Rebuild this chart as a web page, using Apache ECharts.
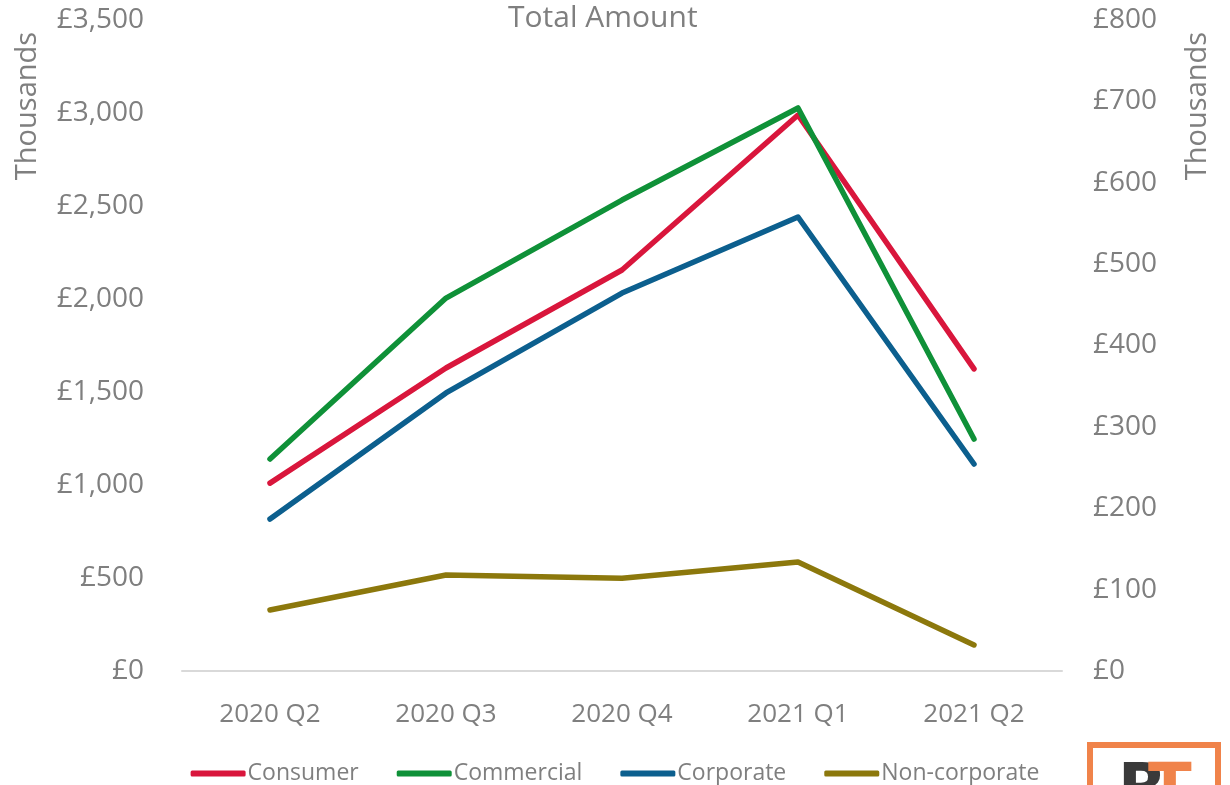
<!DOCTYPE html>
<html>
<head>
<meta charset="utf-8">
<title>Total Amount</title>
<script src="https://cdn.jsdelivr.net/npm/echarts@6/dist/echarts.min.js"></script>
<style>
    html, body { margin: 0; padding: 0; background: #fff; }
    #chart { width: 1230px; height: 785px; }
</style>
</head>
<body>
<div id="chart"></div>
<script>
// Data (thousands of pounds)
const quarters = ['2020 Q2', '2020 Q3', '2020 Q4', '2021 Q1', '2021 Q2'];
const consumer = [1010, 1629, 2156, 2989, 1624];
const commercial = [1140, 2005, 2532, 3027, 1247];
const corporate = [817, 1495, 2032, 2441, 1113];
// Non-corporate is plotted against the right-hand axis
const nonCorporate = [75, 118, 114, 134, 32];

const GREY = '#7f7f7f';
const FONT = '"Open Sans", "Noto Sans", sans-serif';

// Utility: £ formatting with thousands separator
function pounds(v) {
    return '£' + v.toLocaleString('en-GB');
}

function lineSeries(name, data, color, axisIndex) {
    return {
        name: name,
        type: 'line',
        data: data,
        yAxisIndex: axisIndex,
        showSymbol: false,
        symbol: 'none',
        color: color,
        lineStyle: { width: 5.5, color: color, cap: 'round', join: 'round' }
    };
}

const chart = echarts.init(document.getElementById('chart'));

chart.setOption({
    animation: false,
    textStyle: { fontFamily: FONT },
    title: {
        text: 'Total Amount',
        left: 508,
        top: 3,
        padding: 0,
        textStyle: { color: GREY, fontSize: 30, fontWeight: 'normal', fontFamily: FONT }
    },
    grid: { left: 182, right: 168, top: 20, bottom: 114 },
    legend: {
        left: 'center',
        top: 757,
        itemWidth: 55,
        itemHeight: 6,
        itemGap: 38,
        icon: 'roundRect',
        textStyle: { color: GREY, fontSize: 23, fontFamily: FONT, padding: [0, 0, 0, -3] },
        data: ['Consumer', 'Commercial', 'Corporate', 'Non-corporate']
    },
    xAxis: {
        type: 'category',
        data: quarters,
        axisLine: { lineStyle: { color: '#d9d9d9', width: 2 } },
        axisTick: { show: false },
        axisLabel: { color: GREY, fontSize: 26, margin: 31, fontFamily: FONT }
    },
    yAxis: [
        {
            type: 'value',
            min: 0,
            max: 3500,
            interval: 500,
            splitLine: { show: false },
            axisLine: { show: false },
            axisTick: { show: false },
            axisLabel: { color: GREY, fontSize: 28, margin: 38, fontFamily: FONT, formatter: pounds }
        },
        {
            type: 'value',
            min: 0,
            max: 800,
            interval: 100,
            position: 'right',
            splitLine: { show: false },
            axisLine: { show: false },
            axisTick: { show: false },
            axisLabel: { color: GREY, fontSize: 28, margin: 31, fontFamily: FONT, formatter: pounds }
        }
    ],
    graphic: [
        // axis unit captions
        {
            type: 'text', x: 28, y: 106, rotation: Math.PI / 2,
            style: { text: 'Thousands', fill: GREY, font: '29px ' + FONT, align: 'center', verticalAlign: 'middle' }
        },
        {
            type: 'text', x: 1198, y: 106, rotation: Math.PI / 2,
            style: { text: 'Thousands', fill: GREY, font: '29px ' + FONT, align: 'center', verticalAlign: 'middle' }
        },
        // logo, cut off by the bottom edge
        {
            type: 'rect', shape: { x: 1090, y: 745, width: 128, height: 80 },
            style: { fill: '#fff', stroke: '#f0834a', lineWidth: 6 }
        },
        {
            type: 'text', x: 1118, y: 760,
            style: { text: 'R', fill: '#3a3a3a', font: 'bold 64px "DejaVu Sans", sans-serif', verticalAlign: 'top' }
        },
        {
            type: 'text', x: 1148, y: 760,
            style: { text: 'T', fill: '#f0834a', font: 'bold 64px "DejaVu Sans", sans-serif', verticalAlign: 'top' }
        }
    ],
    series: [
        lineSeries('Consumer', consumer, '#d9163c', 0),
        lineSeries('Commercial', commercial, '#0f9138', 0),
        lineSeries('Corporate', corporate, '#0c5f8e', 0),
        lineSeries('Non-corporate', nonCorporate, '#8c780c', 1)
    ]
});
</script>
</body>
</html>
